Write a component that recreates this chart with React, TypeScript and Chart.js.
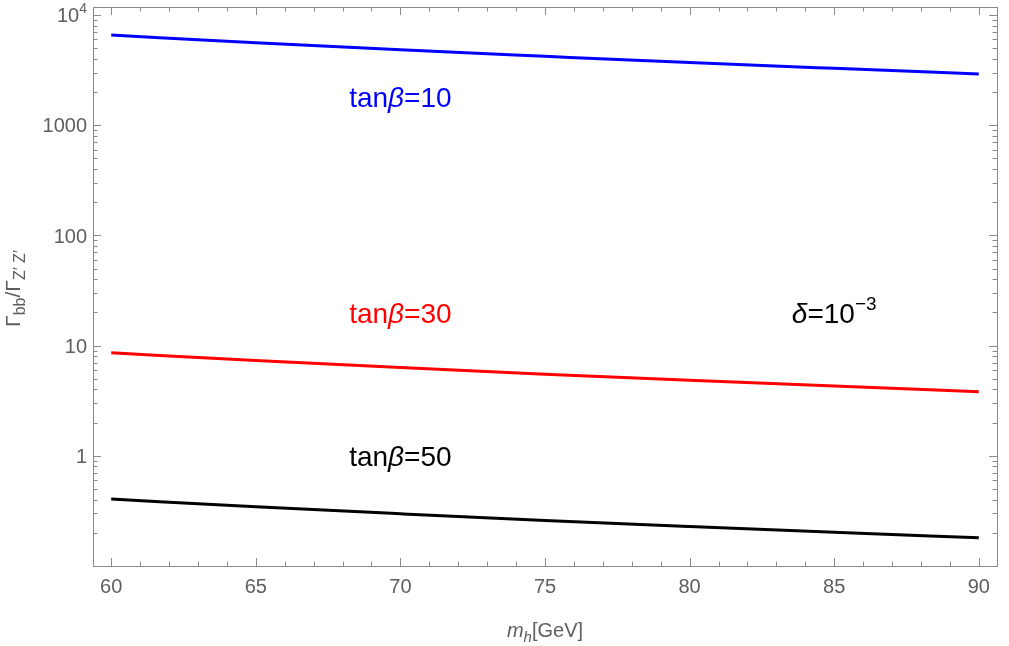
import React, { useEffect, useRef } from 'react';
import { Chart, registerables } from 'chart.js';

Chart.register(...registerables);

// Higgs mass (GeV) and width ratio Γ(bb)/Γ(Z'Z') for three tanβ values
const massGeV = [60, 65, 70, 75, 80, 85, 90];
const ratioTan10 = [6580, 5600, 4830, 4220, 3700, 3280, 2920];
const ratioTan30 = [8.6, 7.33, 6.32, 5.5, 4.84, 4.29, 3.82];
const ratioTan50 = [0.405, 0.345, 0.298, 0.259, 0.228, 0.202, 0.18];

// Axis ticks
const xMajorTicks = [60, 65, 70, 75, 80, 85, 90];
const xTickLabels = ['60', '65', '70', '75', '80', '85', '90'];
const yMajorTicks = [1, 10, 100, 1000, 10000];
const yTickLabels = ['1', '10', '100', '1000', '10^4'];

// Curve labels: [x, y, text, colour]
const curveLabels: [number, number, string, string][] = [
  [70, 1800, 'tan{β}=10', '#0000ff'],
  [70, 20, 'tan{β}=30', '#ff0000'],
  [70, 1, 'tan{β}=50', '#000000'],
  [85, 20, '{δ}=10^−3', '#000000'],
];

const FAMILY = '"Liberation Sans", Arial, Helvetica, sans-serif';
const FRAME = '#8a8a8a';
const LABEL = '#5e5e5e';

type Part = { t: string; size: number; italic?: boolean; rise?: number };

function fontOf(p: Part) {
  return `${p.italic ? 'italic ' : ''}${p.size}px ${FAMILY}`;
}

// "{...}" marks italic, "^..." marks a superscript tail
function parseRich(text: string, size: number): Part[] {
  const parts: Part[] = [];
  let main = text;
  let sup = '';
  const caret = text.indexOf('^');
  if (caret >= 0) {
    main = text.slice(0, caret);
    sup = text.slice(caret + 1);
  }
  const re = /\{([^}]*)\}|([^{]+)/g;
  let m: RegExpExecArray | null;
  while ((m = re.exec(main))) {
    if (m[1] !== undefined) parts.push({ t: m[1], size, italic: true });
    else parts.push({ t: m[2], size });
  }
  if (sup) parts.push({ t: sup, size: Math.round(size * 0.68), rise: size * 0.45 });
  return parts;
}

function drawParts(
  ctx: CanvasRenderingContext2D,
  parts: Part[],
  x: number,
  baseline: number,
  align: 'left' | 'center' | 'right',
  color: string
) {
  ctx.save();
  ctx.textAlign = 'left';
  ctx.textBaseline = 'alphabetic';
  ctx.fillStyle = color;
  const widths = parts.map((p) => {
    ctx.font = fontOf(p);
    return ctx.measureText(p.t).width;
  });
  const total = widths.reduce((a, b) => a + b, 0);
  let cx = align === 'left' ? x : align === 'center' ? x - total / 2 : x - total;
  parts.forEach((p, i) => {
    ctx.font = fontOf(p);
    ctx.fillText(p.t, cx, baseline - (p.rise || 0));
    cx += widths[i];
  });
  ctx.restore();
}

const framePlugin = {
  id: 'mmaFrame',
  afterDraw(chart: any) {
    const ctx: CanvasRenderingContext2D = chart.ctx;
    const { left, right, top, bottom } = chart.chartArea;
    const xs = chart.scales.x;
    const ys = chart.scales.y;

    ctx.save();
    ctx.strokeStyle = FRAME;
    ctx.lineWidth = 1;
    ctx.strokeRect(Math.round(left) + 0.5, Math.round(top) + 0.5, Math.round(right - left), Math.round(bottom - top));

    const majorLen = 8;
    const minorLen = 4.5;

    // x ticks (bottom and top, pointing inward)
    for (let v = 60; v <= 90; v++) {
      const px = Math.round(xs.getPixelForValue(v)) + 0.5;
      const len = xMajorTicks.includes(v) ? majorLen : minorLen;
      ctx.beginPath();
      ctx.moveTo(px, bottom);
      ctx.lineTo(px, bottom - len);
      ctx.moveTo(px, top);
      ctx.lineTo(px, top + len);
      ctx.stroke();
    }

    // y ticks (left and right, pointing inward)
    const yMin = ys.min;
    const yMax = ys.max;
    for (let e = -1; e <= 4; e++) {
      for (let k = 1; k <= 9; k++) {
        const v = k * Math.pow(10, e);
        if (v < yMin || v > yMax) continue;
        const py = Math.round(ys.getPixelForValue(v)) + 0.5;
        const len = k === 1 ? majorLen : minorLen;
        ctx.beginPath();
        ctx.moveTo(left, py);
        ctx.lineTo(left + len, py);
        ctx.moveTo(right, py);
        ctx.lineTo(right - len, py);
        ctx.stroke();
      }
    }
    ctx.restore();

    // tick labels
    const tickSize = 20;
    xMajorTicks.forEach((v, i) => {
      const px = xs.getPixelForValue(v);
      drawParts(ctx, [{ t: xTickLabels[i], size: tickSize }], px, bottom + 27, 'center', LABEL);
    });
    yMajorTicks.forEach((v, i) => {
      const py = ys.getPixelForValue(v);
      drawParts(ctx, parseRich(yTickLabels[i], tickSize), left - 6, py + tickSize * 0.36, 'right', LABEL);
    });

    // axis titles
    const titleSize = 20;
    const subSize = 15;
    drawParts(
      ctx,
      [
        { t: 'm', size: titleSize, italic: true },
        { t: 'h', size: subSize, italic: true, rise: -5 },
        { t: '[GeV]', size: titleSize },
      ],
      (left + right) / 2,
      bottom + 71,
      'center',
      LABEL
    );
    ctx.save();
    ctx.translate(20, (top + bottom) / 2 + 2);
    ctx.rotate(-Math.PI / 2);
    drawParts(
      ctx,
      [
        { t: 'Γ', size: 21 },
        { t: 'bb', size: 16, rise: -5 },
        { t: '/Γ', size: 21 },
        { t: 'Z′ Z′', size: 16, rise: -5 },
      ],
      0,
      0,
      'center',
      LABEL
    );
    ctx.restore();

    // curve labels
    const annSize = 28;
    curveLabels.forEach(([x, y, text, color]) => {
      const px = xs.getPixelForValue(x);
      const py = ys.getPixelForValue(y);
      drawParts(ctx, parseRich(text, annSize), px, py + annSize * 0.36, 'center', color);
    });
  },
};

function series(values: number[], color: string) {
  return {
    data: massGeV.map((m, i) => ({ x: m, y: values[i] })),
    borderColor: color,
    backgroundColor: color,
    borderWidth: 3,
    pointRadius: 0,
    fill: false,
    cubicInterpolationMode: 'monotone' as const,
  };
}

export default function App() {
  const canvasRef = useRef<HTMLCanvasElement | null>(null);

  useEffect(() => {
    document.body.style.margin = '0';
    const canvas = canvasRef.current;
    if (!canvas) return;
    const chart = new Chart(canvas, {
      type: 'line',
      data: {
        datasets: [
          series(ratioTan10, '#0000ff'),
          series(ratioTan30, '#ff0000'),
          series(ratioTan50, '#000000'),
        ],
      },
      options: {
        responsive: false,
        animation: false,
        layout: { padding: { left: 93, top: 7, right: 12, bottom: 80 } },
        plugins: { legend: { display: false }, tooltip: { enabled: false } },
        scales: {
          x: { type: 'linear', display: false, min: 59.37, max: 90.63 },
          y: { type: 'logarithmic', display: false, min: 0.1, max: 11820 },
        },
      },
      plugins: [framePlugin],
    });
    return () => chart.destroy();
  }, []);

  return (
    <div style={{ width: 1009, height: 646, background: '#fff' }}>
      <canvas ref={canvasRef} width={1009} height={646} />
    </div>
  );
}
